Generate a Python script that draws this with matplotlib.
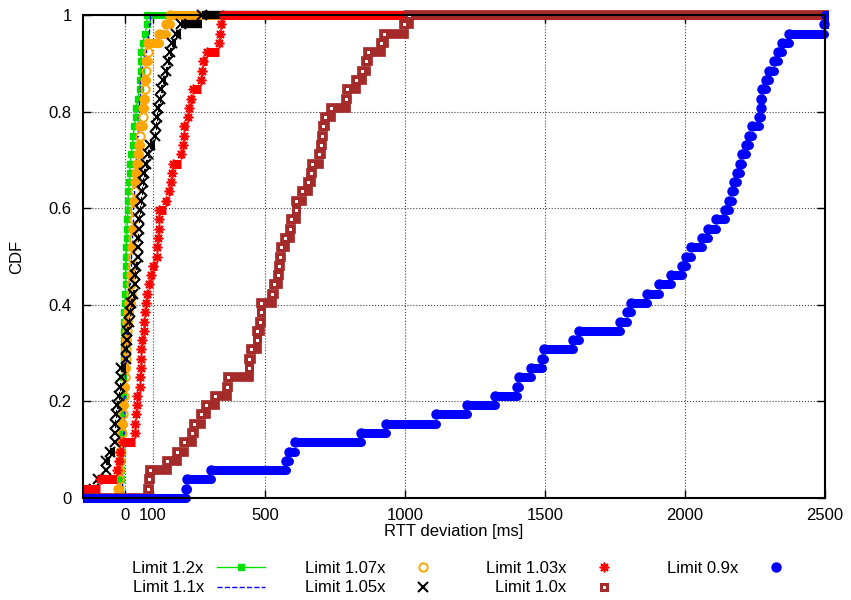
import numpy as np
import matplotlib.pyplot as plt
from matplotlib.transforms import Bbox, TransformedBbox
from matplotlib.ticker import FormatStrFormatter

plt.rcParams['font.family'] = ['Liberation Sans', 'DejaVu Sans']
plt.rcParams['font.size'] = 12

# RTT deviation samples [ms] of each run (52 runs per limit)
lim_12 = [-18, -15, -14, -13, -11, -10, -10, -9, -9, -8, -8, -6, -6, -5, -5, -4,
          -4, -3, -3, -2, 0, 1, 2, 3, 3, 4, 5, 6, 7, 9, 10, 11, 12, 16, 17, 18,
          22, 27, 29, 34, 38, 41, 45, 52, 55, 56, 57, 58, 63, 73, 77, 80]
lim_11 = [-15, -12, -11, -9, -8, -7, -6, -5, -4, -3, -2, -1, 0, 1, 2, 3, 4, 5,
          6, 7, 9, 13, 16, 17, 20, 21, 22, 24, 25, 27, 28, 30, 31, 34, 37, 38,
          41, 42, 44, 45, 48, 49, 51, 52, 55, 59, 62, 69, 75, 82, 86, 90]
lim_107 = [-25, -21, -20, -19, -18, -16, -11, -10, -7, -6, -4, -3, 0, 1, 3, 4,
           5, 6, 7, 11, 14, 21, 22, 23, 24, 25, 26, 29, 30, 32, 33, 34, 36, 37,
           39, 43, 46, 50, 54, 55, 64, 65, 68, 71, 72, 75, 76, 82, 83, 121, 146, 161]
lim_105 = [-111, -96, -68, -67, -54, -36, -35, -34, -33, -29, -21, -18, -14, -13,
           4, 5, 6, 7, 14, 18, 21, 29, 36, 37, 39, 46, 47, 48, 49, 50, 54, 57,
           61, 64, 68, 75, 82, 89, 107, 111, 114, 118, 125, 129, 136, 146, 154,
           161, 168, 182, 200, 275]
lim_103 = [-165, -89, -29, -21, -18, -7, 36, 37, 38, 43, 44, 54, 55, 56, 57, 58,
           61, 68, 69, 71, 75, 79, 86, 93, 100, 114, 114, 118, 120, 120, 121, 146,
           157, 164, 168, 171, 200, 207, 211, 212, 225, 229, 236, 243, 271, 275,
           279, 293, 336, 339, 343, 350]
lim_10 = [82, 86, 89, 150, 186, 211, 239, 246, 271, 289, 321, 364, 368, 443, 443,
          450, 471, 473, 482, 486, 487, 525, 532, 546, 550, 554, 556, 571, 589,
          593, 611, 612, 632, 654, 664, 668, 693, 700, 704, 707, 714, 736, 789,
          793, 825, 846, 861, 868, 914, 925, 996, 1014]
lim_09 = [218, 221, 307, 575, 586, 607, 843, 932, 1111, 1221, 1321, 1400, 1407,
          1450, 1489, 1496, 1600, 1621, 1768, 1793, 1807, 1864, 1907, 1950, 1989,
          2004, 2021, 2061, 2082, 2111, 2143, 2157, 2168, 2175, 2186, 2196, 2204,
          2218, 2229, 2239, 2264, 2271, 2273, 2275, 2289, 2300, 2318, 2332, 2346,
          2371, 2496, 2540]

x_lo, x_hi = -150, 2500
xticks = [0, 100, 500, 1000, 1500, 2000, 2500]
yticks = [0, 0.2, 0.4, 0.6, 0.8, 1]


def cdf(samples):
    s = np.sort(np.asarray(samples, dtype=float))
    return s, np.arange(1, len(s) + 1) / len(s)


def draw_cdf(ax, clip, samples, color, lw, cap, z, **mkw):
    s, y = cdf(samples)
    starts = np.concatenate([[x_lo], s])
    ends = np.concatenate([s, [x_hi]])
    levels = np.concatenate([[0.0], y])
    hl = ax.hlines(levels, starts, ends, colors=color, linewidth=lw, zorder=z)
    hl.set_capstyle(cap)
    hl.set_clip_box(clip)
    ln, = ax.plot(s, y, color=color, zorder=z + 0.1, **mkw)
    ln.set_clip_box(clip)
    return ln


fig = plt.figure(figsize=(8.51, 6.0), dpi=100)
ax = fig.add_axes([0.0975, 0.17, 0.872, 0.805])
ax.set_xlim(x_lo, x_hi)
ax.set_ylim(0, 1)

# let the thick steps spill over the top/bottom border like gnuplot does
clip = TransformedBbox(Bbox([[0, -0.03], [1.006, 1.03]]), ax.transAxes)

draw_cdf(ax, clip, lim_12, '#00e000', 5, 'butt', 3,
         linestyle='-', linewidth=1, marker='s', markersize=5,
         label='Limit 1.2x')
s, y = cdf(lim_11)
st, = ax.step(np.concatenate([[x_lo], s, [x_hi]]),
              np.concatenate([[0], y, [1]]), where='post', color='#0000ff',
              linestyle='--', linewidth=1, zorder=4, label='Limit 1.1x')
st.set_clip_box(clip)
draw_cdf(ax, clip, lim_107, '#ffa500', 6.5, 'round', 5,
         linestyle='none', marker='o', markersize=6, markerfacecolor='none',
         markeredgewidth=1.4, label='Limit 1.07x')
draw_cdf(ax, clip, lim_105, 'black', 6, 'butt', 6,
         linestyle='none', marker='x', markersize=6.5, markeredgewidth=1.5,
         label='Limit 1.05x')
draw_cdf(ax, clip, lim_103, '#ff0000', 6.5, 'butt', 7,
         linestyle='none', marker=(8, 2, 0), markersize=7, markeredgewidth=1.2,
         label='Limit 1.03x')
draw_cdf(ax, clip, lim_10, '#a52a2a', 7, 'projecting', 8,
         linestyle='none', marker='s', markersize=5, markerfacecolor='white',
         markeredgewidth=2.2, label='Limit 1.0x')
draw_cdf(ax, clip, lim_09, '#0000ff', 6.5, 'round', 9,
         linestyle='none', marker='o', markersize=6.5, label='Limit 0.9x')

ax.set_xticks(xticks)
ax.set_yticks(yticks)
ax.yaxis.set_major_formatter(FormatStrFormatter('%g'))
ax.tick_params(direction='in', top=True, right=True, length=6, width=1)
ax.tick_params(axis='x', pad=7)
ax.tick_params(axis='y', pad=8)
ax.grid(True, linestyle=':', color='#444444', linewidth=0.8)
for sp in ax.spines.values():
    sp.set_linewidth(1.5)
    sp.set_zorder(20)

ax.set_xlabel('RTT deviation [ms]', labelpad=1)
ax.set_ylabel('CDF', labelpad=18)

leg = fig.legend(loc='center', bbox_to_anchor=(0.548, 0.036), ncol=4,
                 frameon=False, markerfirst=False, handlelength=2.9,
                 handletextpad=0.8, columnspacing=2.35, labelspacing=0.25,
                 numpoints=1, borderaxespad=0)

fig.savefig('out.png', dpi=100)
